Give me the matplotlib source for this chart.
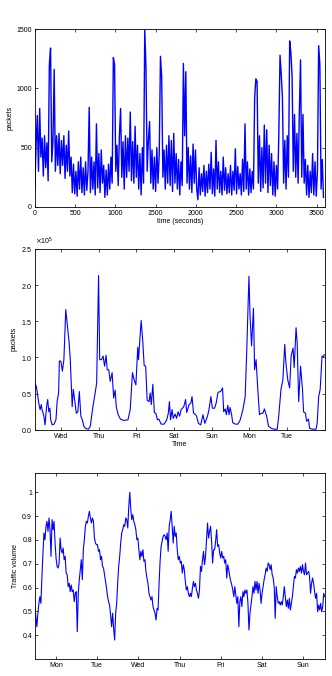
import matplotlib
matplotlib.use("Agg")
import matplotlib.pyplot as plt
import matplotlib.ticker as mticker
import numpy as np

plt.rcParams['font.family'] = ['Liberation Sans', 'DejaVu Sans']
plt.rcParams['font.size'] = 5

# top panel: packets per 15 s over one hour
packets_sec = [
    150, 520, 770, 300, 830, 420, 580, 260, 600, 330, 540, 220, 1200, 1340, 380, 560, 1160, 300, 600, 350,
    620, 280, 560, 350, 600, 240, 520, 300, 640, 260, 420, 120, 360, 110, 300, 90, 380, 150, 420, 120,
    330, 100, 380, 140, 300, 840, 120, 420, 150, 380, 100, 700, 160, 450, 120, 480, 200, 350, 80, 310,
    100, 360, 150, 420, 200, 1260, 1200, 300, 520, 180, 600, 830, 250, 550, 150, 600, 250, 580, 300, 800,
    220, 550, 200, 680, 250, 520, 150, 450, 100, 500, 200, 1490, 1180, 300, 560, 720, 200, 480, 150, 420,
    130, 500, 200, 450, 1270, 1100, 250, 480, 150, 520, 200, 600, 180, 560, 130, 620, 200, 450, 150, 400,
    100, 380, 180, 1210, 600, 1140, 200, 500, 150, 430, 120, 530, 200, 480, 150, 60, 330, 100, 280, 130,
    350, 90, 300, 120, 360, 150, 460, 110, 320, 90, 560, 150, 380, 120, 300, 100, 420, 140, 330, 110,
    280, 120, 350, 100, 300, 140, 490, 110, 340, 150, 280, 100, 400, 130, 700, 150, 380, 100, 320, 120,
    300, 150, 920, 1080, 1060, 200, 600, 130, 500, 160, 690, 200, 650, 120, 520, 180, 450, 100, 380, 90,
    350, 150, 600, 1280, 1120, 920, 200, 560, 150, 600, 250, 1400, 1300, 1100, 300, 780, 250, 620, 200, 800,
    1240, 250, 780, 200, 400, 100, 350, 80, 300, 120, 450, 100, 380, 90, 300, 1360, 1200, 150, 400, 80,
]
time_sec = np.arange(len(packets_sec)) * 15

# middle panel: packets over a week (days from start, value in 1e5)
week_day = [0, 0.04, 0.11, 0.14, 0.17, 0.19, 0.24, 0.27, 0.31, 0.34, 0.37, 0.40, 0.42, 0.46, 0.51, 0.56,
            0.59, 0.63, 0.65, 0.69, 0.73, 0.77, 0.82, 0.86, 0.91, 0.94, 0.99, 1.02, 1.06, 1.10, 1.14, 1.18,
            1.22, 1.26, 1.30, 1.35, 1.42, 1.47, 1.54, 1.60, 1.64, 1.69, 1.72, 1.77, 1.81, 1.85, 1.89, 1.92,
            1.96, 2.00, 2.05, 2.09, 2.13, 2.16, 2.21, 2.27, 2.36, 2.47, 2.53, 2.59, 2.63, 2.68, 2.73, 2.75,
            2.82, 2.86, 2.90, 2.94, 2.98, 3.03, 3.06, 3.09, 3.13, 3.17, 3.21, 3.25, 3.29, 3.35, 3.43, 3.50,
            3.54, 3.57, 3.60, 3.64, 3.67, 3.72, 3.76, 3.80, 3.84, 3.88, 3.95, 4.00, 4.03, 4.09, 4.14, 4.17,
            4.21, 4.25, 4.29, 4.34, 4.40, 4.46, 4.51, 4.58, 4.62, 4.67, 4.71, 4.77, 4.81, 4.86, 4.93, 4.98,
            5.01, 5.05, 5.08, 5.12, 5.15, 5.18, 5.22, 5.25, 5.32, 5.39, 5.45, 5.52, 5.58, 5.62, 5.68, 5.71,
            5.75, 5.80, 5.83, 5.87, 5.91, 5.96, 6.00, 6.05, 6.09, 6.15, 6.20, 6.28, 6.36, 6.43, 6.47, 6.53,
            6.58, 6.63, 6.66, 6.71, 6.76, 6.80, 6.85, 6.88, 6.93, 6.96, 7.00, 7.05, 7.10, 7.13, 7.18, 7.21,
            7.26, 7.29, 7.37, 7.46, 7.49, 7.53, 7.57, 7.62, 7.66, 7.68]
week_packets = [0.65, 0.60, 0.35, 0.28, 0.35, 0.28, 0.19, 0.07, 0.32, 0.42, 0.25, 0.30, 0.14, 0.07, 0.08, 0.14,
                0.39, 0.51, 0.95, 0.95, 0.81, 0.97, 1.66, 1.46, 1.20, 0.97, 0.32, 0.56, 0.39, 0.23, 0.25, 0.53,
                0.19, 0.14, 0.05, 0.02, 0.01, 0.05, 0.32, 0.51, 0.65, 2.13, 0.97, 0.97, 1.02, 0.88, 1.03, 0.83,
                0.83, 0.67, 0.79, 0.44, 0.55, 0.32, 0.21, 0.15, 0.13, 0.14, 0.28, 0.79, 0.70, 0.62, 1.14, 0.97,
                1.51, 1.25, 0.89, 0.88, 0.41, 0.39, 0.51, 0.35, 0.63, 0.24, 0.23, 0.14, 0.15, 0.08, 0.08, 0.14,
                0.23, 0.39, 0.14, 0.28, 0.16, 0.22, 0.16, 0.25, 0.19, 0.28, 0.32, 0.42, 0.24, 0.35, 0.37, 0.46,
                0.23, 0.22, 0.19, 0.09, 0.07, 0.21, 0.09, 0.19, 0.28, 0.46, 0.30, 0.30, 0.37, 0.52, 0.53, 0.58,
                0.25, 0.29, 0.21, 0.34, 0.21, 0.31, 0.21, 0.10, 0.08, 0.08, 0.14, 0.28, 0.46, 1.06, 2.12, 1.57,
                1.16, 1.68, 0.83, 0.97, 0.60, 0.21, 0.23, 0.23, 0.29, 0.19, 0.05, 0.02, 0.01, 0.01, 0.19, 0.56,
                0.69, 1.18, 0.93, 0.69, 0.58, 1.02, 1.13, 0.86, 1.41, 1.20, 0.39, 0.88, 0.56, 0.25, 0.23, 0.12,
                0.15, 0.02, 0.01, 0.01, 0.09, 0.46, 0.56, 1.02, 1.01, 1.04]
week_days = ['Wed', 'Thu', 'Fri', 'Sat', 'Sun', 'Mon', 'Tue']
week_tick0 = 0.69

# bottom panel: normalised traffic volume over a week
volume = [0.52, 0.478, 0.436, 0.492, 0.534, 0.562, 0.534, 0.647, 0.745, 0.829, 0.801, 0.857, 0.878, 0.836,
          0.892, 0.843, 0.731, 0.885, 0.843, 0.878, 0.787, 0.724, 0.689, 0.682, 0.703, 0.808, 0.759, 0.745,
          0.766, 0.717, 0.731, 0.661, 0.654, 0.604, 0.618, 0.583, 0.611, 0.583, 0.590, 0.541, 0.576, 0.583,
          0.415, 0.576, 0.633, 0.675, 0.717, 0.633, 0.759, 0.801, 0.857, 0.878, 0.871, 0.899, 0.920, 0.892,
          0.871, 0.892, 0.878, 0.808, 0.787, 0.780, 0.780, 0.752, 0.759, 0.717, 0.731, 0.689, 0.682, 0.654,
          0.626, 0.597, 0.562, 0.541, 0.527, 0.485, 0.436, 0.492, 0.429, 0.380, 0.492, 0.534, 0.618, 0.689,
          0.731, 0.787, 0.829, 0.843, 0.864, 0.857, 0.892, 0.885, 0.850, 0.941, 1.000, 0.927, 0.885, 0.906,
          0.878, 0.864, 0.843, 0.801, 0.808, 0.759, 0.717, 0.752, 0.731, 0.759, 0.710, 0.717, 0.668, 0.640,
          0.618, 0.576, 0.562, 0.548, 0.562, 0.520, 0.506, 0.492, 0.464, 0.513, 0.506, 0.618, 0.710, 0.773,
          0.794, 0.815, 0.822, 0.815, 0.801, 0.829, 0.752, 0.857, 0.885, 0.920, 0.850, 0.787, 0.857, 0.815,
          0.829, 0.759, 0.717, 0.731, 0.703, 0.710, 0.661, 0.696, 0.675, 0.626, 0.590, 0.604, 0.576, 0.562,
          0.576, 0.562, 0.597, 0.626, 0.604, 0.618, 0.590, 0.576, 0.555, 0.590, 0.689, 0.668, 0.717, 0.752,
          0.696, 0.731, 0.801, 0.871, 0.808, 0.836, 0.857, 0.794, 0.703, 0.759, 0.759, 0.794, 0.843, 0.773,
          0.780, 0.745, 0.724, 0.752, 0.724, 0.731, 0.703, 0.717, 0.640, 0.696, 0.675, 0.647, 0.626, 0.611,
          0.590, 0.562, 0.604, 0.569, 0.534, 0.562, 0.436, 0.541, 0.562, 0.520, 0.583, 0.562, 0.590, 0.576,
          0.590, 0.534, 0.422, 0.492, 0.527, 0.562, 0.604, 0.576, 0.626, 0.590, 0.626, 0.576, 0.618, 0.590,
          0.534, 0.576, 0.604, 0.633, 0.654, 0.682, 0.668, 0.703, 0.696, 0.675, 0.696, 0.654, 0.640, 0.604,
          0.471, 0.604, 0.562, 0.534, 0.541, 0.527, 0.541, 0.527, 0.562, 0.604, 0.562, 0.520, 0.548, 0.513,
          0.555, 0.506, 0.534, 0.562, 0.604, 0.647, 0.640, 0.675, 0.661, 0.682, 0.668, 0.689, 0.661, 0.696,
          0.668, 0.654, 0.703, 0.654, 0.661, 0.668, 0.647, 0.576, 0.618, 0.640, 0.618, 0.583, 0.555, 0.576,
          0.499, 0.527, 0.506, 0.534, 0.499, 0.520, 0.576, 0.562]
vol_days = ['Mon', 'Tue', 'Wed', 'Thu', 'Fri', 'Sat', 'Sun']
vol_tick0 = 0.51
vol_span = 7.03

fig = plt.figure(figsize=(3.32, 6.76), dpi=100)
ax1 = fig.add_axes([0.105, 0.694, 0.873, 0.263])
ax2 = fig.add_axes([0.105, 0.364, 0.873, 0.268])
ax3 = fig.add_axes([0.105, 0.025, 0.873, 0.275])

for ax in (ax1, ax2, ax3):
    ax.tick_params(direction='in', top=True, right=True, length=2.5, width=0.5, labelsize=5, pad=2)
    for s in ax.spines.values():
        s.set_linewidth(0.6)

# top
ax1.plot(time_sec, packets_sec, color='#0000ff', linewidth=1.0)
ax1.set_xlim(0, 3600)
ax1.set_ylim(0, 1500)
ax1.set_xticks(np.arange(0, 3600, 500))
ax1.set_yticks([0, 500, 1000, 1500])
ax1.set_xlabel('time (seconds)', fontsize=5, labelpad=1)
ax1.set_ylabel('packets', fontsize=5, labelpad=2)

# middle
ax2.plot(week_day, np.array(week_packets) * 1e5, color='#0000ff', linewidth=0.8)
ax2.set_xlim(0, week_tick0 + len(week_days))
ax2.set_ylim(0, 2.5e5)
ax2.set_xticks(week_tick0 + np.arange(len(week_days)))
ax2.set_xticklabels(week_days)
ax2.set_yticks(np.arange(0, 2.51e5, 0.5e5))
fmt = mticker.ScalarFormatter(useMathText=True)
fmt.set_powerlimits((0, 0))
ax2.yaxis.set_major_formatter(fmt)
ax2.yaxis.get_offset_text().set_fontsize(5)
ax2.set_xlabel('Time', fontsize=5, labelpad=1)
ax2.set_ylabel('packets', fontsize=5, labelpad=2)

# bottom
vol_x = np.linspace(0, vol_span, len(volume))
ax3.plot(vol_x, volume, color='#0000ff', linewidth=0.8)
ax3.set_xlim(0, vol_span)
ax3.set_ylim(0.3, 1.08)
ax3.set_xticks(vol_tick0 + np.arange(len(vol_days)))
ax3.set_xticklabels(vol_days)
ax3.set_yticks([0.4, 0.5, 0.6, 0.7, 0.8, 0.9, 1.0])
ax3.set_yticklabels(['0.4', '0.5', '0.6', '0.7', '0.8', '0.9', '1'])
ax3.set_ylabel('Traffic volume', fontsize=5, labelpad=2)

fig.savefig('out.png', dpi=100)
